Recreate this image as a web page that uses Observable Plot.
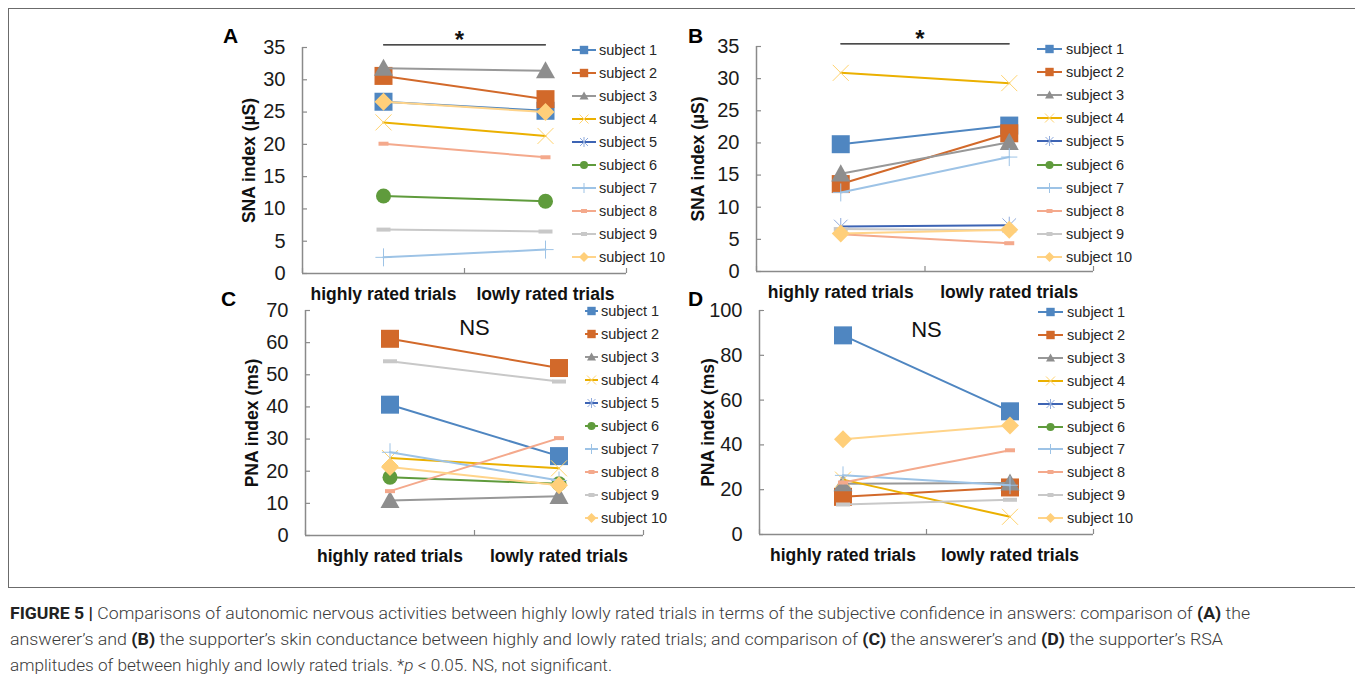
<!DOCTYPE html>
<html><head><meta charset="utf-8">
<script src="https://cdn.jsdelivr.net/npm/d3@7"></script>
<script src="https://cdn.jsdelivr.net/npm/@observablehq/plot@0.6"></script>
<style>
html,body{margin:0;padding:0;background:#fff;width:1355px;height:683px;overflow:hidden;}
#root{position:relative;width:1355px;height:683px;font-family:"Liberation Sans",Arial,sans-serif;}
.frame{position:absolute;left:8px;top:8px;width:1400px;height:580px;border:1.5px solid #6b6b6b;box-sizing:border-box;}
.panel{position:absolute;}
.letter{position:absolute;font-weight:bold;font-size:21px;line-height:1;color:#000;}
.legend{position:absolute;font-size:14.5px;color:#262626;}
.legend .row{position:absolute;height:20px;display:flex;align-items:center;white-space:nowrap;}
.legend svg{display:block;overflow:visible;}
.caption{position:absolute;left:10px;top:601px;font-family:Roboto,"Liberation Sans",sans-serif;font-weight:300;font-size:16px;line-height:26px;color:#3a3a3a;white-space:nowrap;}
.caption .ln{display:block;transform-origin:0 50%;width:max-content;}
.caption b{font-weight:700;color:#222;}
</style></head>
<body><div id="root"><div class="frame"></div></div>
<script>
// ---------- data ----------
const trials = ["highly rated trials", "lowly rated trials"];
const subjects = ["subject 1","subject 2","subject 3","subject 4","subject 5","subject 6","subject 7","subject 8","subject 9","subject 10"];

// A: answerer SNA index (µS)
const snaAnswererHigh = [26.6, 30.6, 31.8, 23.4, null, 12.0, 2.5, 20.1, 6.8, 26.6];
const snaAnswererLow  = [25.2, 27.0, 31.4, 21.3, null, 11.2, 3.7, 18.0, 6.5, 25.0];
// B: supporter SNA index (µS)
const snaSupporterHigh = [19.8, 13.6, 15.2, 30.9, 7.0, null, 12.3, 5.8, 6.6, 5.9];
const snaSupporterLow  = [22.7, 21.5, 20.1, 29.3, 7.2, null, 17.8, 4.4, 6.4, 6.5];
// C: answerer PNA index (ms)
const pnaAnswererHigh = [40.7, 61.2, 10.9, 24.1, null, 18.1, 25.9, 13.8, 54.2, 21.3];
const pnaAnswererLow  = [24.7, 52.1, 12.2, 20.9, null, 16.1, 17.1, 30.3, 47.9, 15.6];
// D: supporter PNA index (ms)
const pnaSupporterHigh = [88.9, 16.8, 22.7, 24.5, null, null, 26.4, 23.2, 13.4, 42.5];
const pnaSupporterLow  = [55.0, 21.0, 23.0, 7.9, null, null, 22.0, 37.6, 15.5, 48.7];

const yTicksSNA = [0, 5, 10, 15, 20, 25, 30, 35];
const yTicksPNA_C = [0, 10, 20, 30, 40, 50, 60, 70];
const yTicksPNA_D = [0, 20, 40, 60, 80, 100];

// ---------- symbols ----------
const rad = s => Math.sqrt(s / Math.PI);
const SYM = {
  square: {draw(c, s) { const r = rad(s); c.rect(-r, -r, 2 * r, 2 * r); }},
  triangle: {draw(c, s) { const r = rad(s); c.moveTo(0, -r); c.lineTo(r, r * 0.8); c.lineTo(-r, r * 0.8); c.closePath(); }},
  circle: {draw(c, s) { const r = rad(s); c.moveTo(r, 0); c.arc(0, 0, r, 0, 2 * Math.PI); }},
  diamond: {draw(c, s) { const r = rad(s); c.moveTo(0, -r); c.lineTo(r, 0); c.lineTo(0, r); c.lineTo(-r, 0); c.closePath(); }},
  times: {draw(c, s) { const r = rad(s); c.moveTo(-r, -r); c.lineTo(r, r); c.moveTo(r, -r); c.lineTo(-r, r); }},
  asterisk: {draw(c, s) { const r = rad(s); c.moveTo(-r * 0.8, -r * 0.8); c.lineTo(r * 0.8, r * 0.8); c.moveTo(r * 0.8, -r * 0.8); c.lineTo(-r * 0.8, r * 0.8); c.moveTo(0, -r); c.lineTo(0, r); }},
  plus: {draw(c, s) { const r = rad(s); c.moveTo(0, -r); c.lineTo(0, r); c.moveTo(-r * 0.9, 0); c.lineTo(r * 0.9, 0); }},
  dash: {draw(c, s) { const r = rad(s); c.rect(-r, -2, 2 * r, 4); }}
};

const style = [
  {line: "#4F86C1", sym: "square",   r: 9,   lr: 4.2, fill: "#4F86C1", stroke: "none", sw: 0},
  {line: "#D2692A", sym: "square",   r: 9,   lr: 4.2, fill: "#D2692A", stroke: "none", sw: 0},
  {line: "#989898", sym: "triangle", r: 9.5, lr: 4.5, fill: "#8E8E8E", stroke: "none", sw: 0},
  {line: "#EBB000", sym: "times",    r: 8,   lr: 4.5, fill: "none", stroke: "#FFD36E", sw: 1},
  {line: "#3D64B4", sym: "asterisk", r: 8.5, lr: 5,   fill: "none", stroke: "#8FAADC", sw: 1},
  {line: "#5F9B3C", sym: "circle",   r: 7.5, lr: 4,   fill: "#5F9B3C", stroke: "none", sw: 0},
  {line: "#9DC3E6", sym: "plus",     r: 9,   lr: 5,   fill: "none", stroke: "#9DC3E6", sw: 1},
  {line: "#F4A98C", sym: "dash",     r: 5,   lr: 3,   fill: "#F4A98C", stroke: "none", sw: 0},
  {line: "#C8C8C8", sym: "dash",     r: 7,   lr: 3,   fill: "#C8C8C8", stroke: "none", sw: 0},
  {line: "#FFD48A", sym: "diamond",  r: 9,   lr: 5,   fill: "#FFCF7A", stroke: "none", sw: 0}
];

const AXIS = "#8a8a8a";
const FONT = "'Liberation Sans', Arial, sans-serif";

const panels = [
  {id: "A", high: snaAnswererHigh, low: snaAnswererLow, yMax: 35, ticks: yTicksSNA, yLabel: "SNA index (µS)", note: "*", sig: true, noteDy: 0,
   left: 160, top: 20, width: 520, height: 290, mL: 142, mR: 54, mT: 27, mB: 37, labelDx: -53,
   letter: [223, 25], legend: {x: 572, line: 24, text: 599, y0: 50, dy: 23}},
  {id: "B", high: snaSupporterHigh, low: snaSupporterLow, yMax: 35, ticks: yTicksSNA, yLabel: "SNA index (µS)", note: "*", sig: true, noteDy: 0,
   left: 680, top: 20, width: 480, height: 290, mL: 76, mR: 67, mT: 26, mB: 39, labelDx: -58,
   letter: [688, 25], legend: {x: 1037, line: 25, text: 1066, y0: 48.5, dy: 23.2}},
  {id: "C", high: pnaAnswererHigh, low: pnaAnswererLow, yMax: 70, ticks: yTicksPNA_C, yLabel: "PNA index (ms)", note: "NS", sig: false, noteDy: 9,
   left: 160, top: 295, width: 520, height: 290, mL: 145, mR: 37, mT: 15, mB: 50, labelDx: -53,
   letter: [221, 288], legend: {x: 585, line: 13, text: 601, y0: 311, dy: 23}},
  {id: "D", high: pnaSupporterHigh, low: pnaSupporterLow, yMax: 100, ticks: yTicksPNA_D, yLabel: "PNA index (ms)", note: "NS", sig: false, noteDy: 11,
   left: 680, top: 295, width: 480, height: 290, mL: 79, mR: 67, mT: 15, mB: 51, labelDx: -51,
   letter: [688, 288], legend: {x: 1038, line: 25, text: 1067, y0: 312, dy: 22.9}}
];

const root = document.getElementById("root");

for (const p of panels) {
  // table built from the arrays: x = category index + 0.5 on a [0, 2] axis
  const rows = [];
  subjects.forEach((s, i) => {
    [p.high[i], p.low[i]].forEach((v, j) => { if (v != null) rows.push({s: i, x: j + 0.5, v}); });
  });

  const marks = [
    Plot.ruleX([0], {stroke: AXIS, strokeWidth: 1.5}),
    Plot.ruleY([0], {stroke: AXIS, strokeWidth: 1.5}),
    Plot.axisY({ticks: p.ticks, tickSize: -5, stroke: AXIS, strokeWidth: 1.2, fill: "none", label: null}),
    Plot.axisY({ticks: p.ticks, tickSize: 0, tickPadding: 17, fontSize: 20, fill: "#1a1a1a", label: null}),
    Plot.axisX({ticks: [0, 1, 2], tickSize: -5, stroke: AXIS, strokeWidth: 1.2, fill: "none", label: null}),
    Plot.axisX({ticks: [0.5, 1.5], tickSize: 0, tickPadding: 14, tickFormat: d => trials[Math.floor(d)],
                fontSize: 17.5, fontWeight: "bold", fill: "#111", label: null}),
    Plot.text([p.yLabel], {text: d => d, frameAnchor: "left", textAnchor: "middle", lineAnchor: "middle", rotate: -90,
                           dx: p.labelDx, fontSize: 17.5, fontWeight: "bold", fill: "#111"})
  ];

  style.forEach((st, i) => {
    marks.push(Plot.line(rows, {filter: d => d.s === i, x: "x", y: "v", stroke: st.line, strokeWidth: 2}));
    marks.push(Plot.dot(rows, {filter: d => d.s === i, x: "x", y: "v", symbol: SYM[st.sym], r: st.r,
      fill: st.fill, stroke: st.stroke, strokeWidth: st.sw}));
  });

  if (p.sig) {
    const sigLevel = p.yMax * 1.012;
    marks.push(Plot.line([{x: 0.5, v: sigLevel}, {x: 1.5, v: sigLevel}], {x: "x", y: "v", stroke: "#111", strokeWidth: 1.2}));
    marks.push(Plot.text([p.note], {text: d => d, frameAnchor: "top", dx: -5, dy: -17, fontSize: 24, fontWeight: "bold", fill: "#111"}));
  } else {
    marks.push(Plot.text([p.note], {text: d => d, frameAnchor: "top", dy: p.noteDy, fontSize: 22, fill: "#111"}));
  }

  const chart = Plot.plot({
    width: p.width, height: p.height,
    marginLeft: p.mL, marginRight: p.mR, marginTop: p.mT, marginBottom: p.mB,
    style: {background: "transparent", fontFamily: FONT, overflow: "visible"},
    x: {type: "linear", domain: [0, 2], axis: null},
    y: {type: "linear", domain: [0, p.yMax], axis: null},
    marks
  });
  chart.style.position = "absolute";
  chart.style.left = p.left + "px";
  chart.style.top = p.top + "px";
  chart.style.maxWidth = "none";
  root.appendChild(chart);

  // panel letter
  const L = document.createElement("div");
  L.className = "letter";
  L.textContent = p.id;
  L.style.left = p.letter[0] + "px";
  L.style.top = p.letter[1] + "px";
  root.appendChild(L);

  // legend
  const lg = p.legend;
  const leg = document.createElement("div");
  leg.className = "legend";
  leg.style.left = "0px"; leg.style.top = "0px";
  subjects.forEach((name, i) => {
    const st = style[i];
    const row = document.createElement("div");
    row.className = "row";
    row.style.left = lg.x + "px";
    row.style.top = (lg.y0 + i * lg.dy - 10) + "px";
    const svg = d3.create("svg").attr("width", lg.text - lg.x).attr("height", 20);
    const cx = lg.line / 2;
    svg.append("line").attr("x1", 0).attr("x2", lg.line).attr("y1", 10).attr("y2", 10)
      .attr("stroke", st.line).attr("stroke-width", 2);
    svg.append("path").attr("transform", `translate(${cx},10)`)
      .attr("d", d3.symbol(SYM[st.sym], Math.PI * st.lr * st.lr)())
      .attr("fill", st.fill).attr("stroke", st.stroke).attr("stroke-width", st.sw);
    row.appendChild(svg.node());
    const t = document.createElement("span");
    t.textContent = name;
    row.appendChild(t);
    leg.appendChild(row);
  });
  root.appendChild(leg);
}

// caption
const captionLines = [
  '<b>FIGURE 5 |</b> Comparisons of autonomic nervous activities between highly lowly rated trials in terms of the subjective confidence in answers: comparison of <b>(A)</b> the',
  'answerer’s and <b>(B)</b> the supporter’s skin conductance between highly and lowly rated trials; and comparison of <b>(C)</b> the answerer’s and <b>(D)</b> the supporter’s RSA',
  'amplitudes of between highly and lowly rated trials. *<i>p</i> &lt; 0.05. NS, not significant.'
];
const captionWidths = [1240, 1213, 602];
const cap = document.createElement("div");
cap.className = "caption";
captionLines.forEach((html, i) => {
  const s = document.createElement("span");
  s.className = "ln";
  s.innerHTML = html;
  cap.appendChild(s);
});
root.appendChild(cap);
cap.querySelectorAll(".ln").forEach((s, i) => {
  const w = s.getBoundingClientRect().width;
  if (w > 0) s.style.transform = `scaleX(${captionWidths[i] / w})`;
});
</script>
</body></html>
